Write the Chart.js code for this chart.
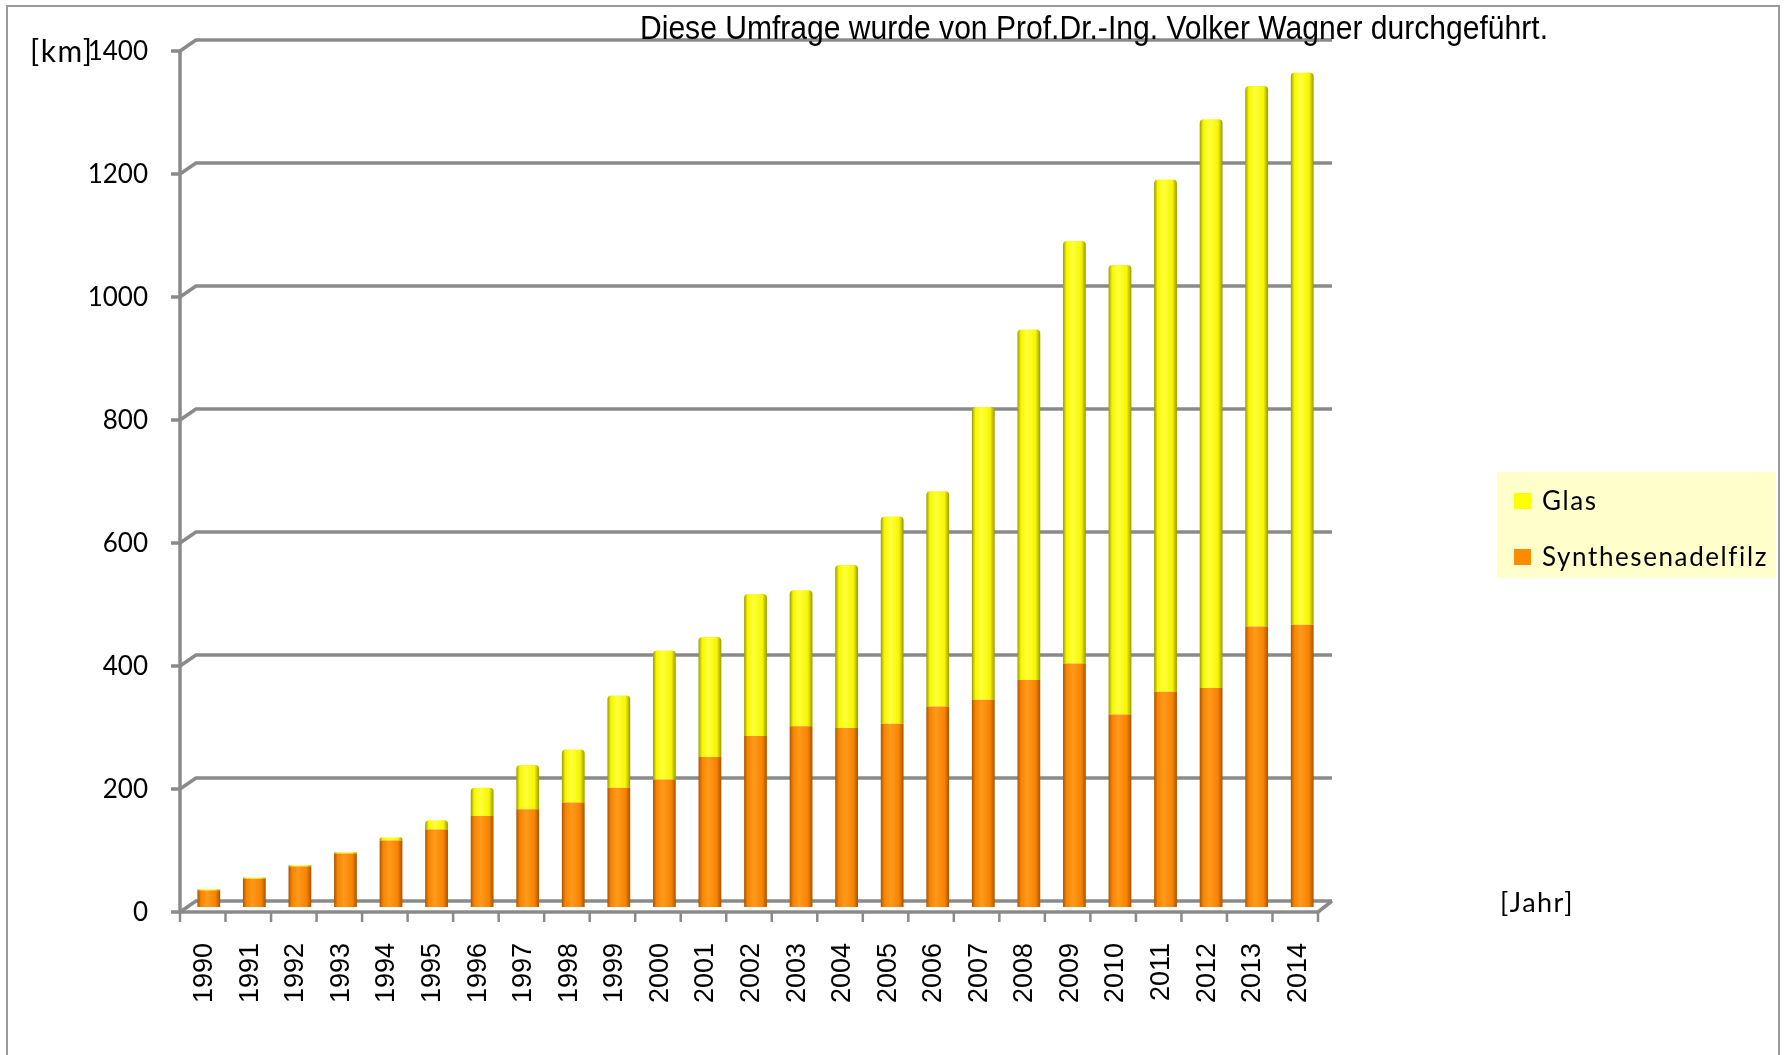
<!DOCTYPE html>
<html lang="de">
<head>
<meta charset="utf-8">
<title>Umfrage Schlauchliner</title>
<script src="https://cdn.jsdelivr.net/npm/chart.js@4"></script>
<style>
    body { margin: 0; background: #ffffff; }
    canvas { display: block; }
</style>
</head>
<body>
<canvas id="grafik" width="1785" height="1055"></canvas>
<script>
// Werte [km]
const jahre = ['1990', '1991', '1992', '1993', '1994', '1995', '1996', '1997', '1998', '1999',
    '2000', '2001', '2002', '2003', '2004', '2005', '2006', '2007', '2008', '2009',
    '2010', '2011', '2012', '2013', '2014'];
const synthesenadelfilz = [27, 46, 66, 87, 108, 126, 148, 159, 170, 194,
    207, 244, 278, 294, 291, 298, 326, 337, 369, 396,
    313, 350, 356, 456, 459];
const glas = [2, 2, 2, 2, 5, 15, 46, 72, 86, 150,
    210, 195, 231, 221, 265, 337, 350, 476, 570, 687,
    731, 833, 925, 879, 898];
const yTicks = [0, 200, 400, 600, 800, 1000, 1200, 1400];

const titel = 'Diese Umfrage wurde von Prof.Dr.-Ing. Volker Wagner durchgeführt.';
const balkenBreite = 0.5;
const rahmenFarbe = '#8a8a8a';

// Zylinder-Schattierung (horizontaler Verlauf über die Balkenbreite)
function zylinder(context, dunkel, hell, mitte) {
    const chart = context.chart;
    const xAchse = chart.scales.x;
    if (!xAchse || context.dataIndex === undefined || !chart.chartArea) {
        return mitte;
    }
    const px = xAchse.getPixelForValue(context.dataIndex);
    const halb = xAchse.width / jahre.length * balkenBreite / 2;
    const g = chart.ctx.createLinearGradient(px - halb, 0, px + halb, 0);
    g.addColorStop(0, dunkel);
    g.addColorStop(0.15, mitte);
    g.addColorStop(0.42, hell);
    g.addColorStop(0.8, mitte);
    g.addColorStop(1, dunkel);
    return g;
}

// 3D-Rahmen: Rückwand-Gitterlinien, Achsen und Teilstriche
const rahmen3d = {
    id: 'rahmen3d',
    beforeDatasetsDraw(chart) {
        const ctx = chart.ctx;
        const ca = chart.chartArea;
        const yS = chart.scales.y;
        const vorneX = ca.left - 6;
        const hintenX = ca.left + 10;
        const vorneRechts = ca.right - 7;
        const hintenRechts = ca.right + 7;

        ctx.save();
        ctx.strokeStyle = rahmenFarbe;
        ctx.lineWidth = 3.5;
        ctx.lineJoin = 'round';

        yTicks.forEach(function (v) {
            const yv = yS.getPixelForValue(v);
            const yF = yv + 5;
            const yB = yv - 6;
            ctx.beginPath();
            ctx.moveTo(vorneX - 9, yF);
            ctx.lineTo(vorneX, yF);
            ctx.lineTo(hintenX, yB);
            ctx.lineTo(hintenRechts, yB);
            ctx.stroke();
        });

        const yF0 = yS.getPixelForValue(0) + 5;
        const yB0 = yS.getPixelForValue(0) - 6;
        const yFTop = yS.getPixelForValue(1400) + 5;

        // vordere Achsen
        ctx.beginPath();
        ctx.moveTo(vorneX, yFTop);
        ctx.lineTo(vorneX, yF0);
        ctx.lineTo(vorneRechts, yF0);
        ctx.lineTo(hintenRechts, yB0);
        ctx.stroke();

        // Teilstriche an der x-Achse
        ctx.lineWidth = 2.5;
        const schritt = (vorneRechts - vorneX) / jahre.length;
        for (let i = 0; i <= jahre.length; i++) {
            const x = vorneX + i * schritt;
            ctx.beginPath();
            ctx.moveTo(x, yF0);
            ctx.lineTo(x, yF0 + 10);
            ctx.stroke();
        }
        ctx.restore();
    },
    afterDraw(chart) {
        const ctx = chart.ctx;
        ctx.save();

        // äußerer Rand
        ctx.strokeStyle = '#9a9a9a';
        ctx.lineWidth = 2;
        ctx.beginPath();
        ctx.moveTo(7, 1060);
        ctx.lineTo(7, 6);
        ctx.lineTo(1779, 6);
        ctx.lineTo(1779, 1060);
        ctx.stroke();

        // Titel (schmale Schrift)
        ctx.fillStyle = '#000000';
        ctx.font = '33px "Liberation Sans", Arial, sans-serif';
        ctx.textBaseline = 'alphabetic';
        ctx.textAlign = 'center';
        const breite = ctx.measureText(titel).width;
        ctx.save();
        ctx.translate(1094, 39);
        ctx.scale(908 / breite, 1);
        ctx.fillText(titel, 0, 0);
        ctx.restore();

        // Achsenbeschriftungen
        ctx.font = '30px Lato, "Noto Sans", sans-serif';
        ctx.textAlign = 'left';
        ctx.textBaseline = 'middle';
        ctx.letterSpacing = '1.5px';
        ctx.fillText('[km]', 30, 52);
        ctx.font = '27px Lato, "Noto Sans", sans-serif';
        ctx.fillText('[Jahr]', 1500, 903);

        // Legende
        ctx.fillStyle = '#ffffcc';
        ctx.fillRect(1497, 472, 279, 106);
        ctx.font = '26px Lato, "Noto Sans", sans-serif';
        ctx.letterSpacing = '1.6px';
        const eintraege = chart.data.datasets.slice().reverse();
        eintraege.forEach(function (ds, i) {
            const y = 501 + i * 56;
            ctx.fillStyle = ds.legendeFarbe;
            ctx.fillRect(1514, y - 8, 17, 16);
            ctx.fillStyle = '#000000';
            ctx.fillText(ds.label, 1542, y + 1);
        });
        ctx.restore();
    }
};

const grafik = new Chart(document.getElementById('grafik'), {
    type: 'bar',
    data: {
        labels: jahre,
        datasets: [
            {
                label: 'Synthesenadelfilz',
                data: synthesenadelfilz,
                legendeFarbe: '#ff8c00',
                backgroundColor: function (c) { return zylinder(c, '#a85400', '#ff9a1c', '#f78300'); },
                borderWidth: 0
            },
            {
                label: 'Glas',
                data: glas,
                legendeFarbe: '#ffff00',
                backgroundColor: function (c) { return zylinder(c, '#9a9a00', '#ffff3a', '#f6f600'); },
                borderWidth: 0,
                borderRadius: { topLeft: 4, topRight: 4 },
                borderSkipped: 'bottom'
            }
        ]
    },
    options: {
        responsive: false,
        animation: false,
        devicePixelRatio: 1,
        barPercentage: balkenBreite,
        categoryPercentage: 1,
        layout: {
            padding: { top: 46, left: 0, right: 460, bottom: 0 }
        },
        plugins: {
            legend: { display: false },
            title: { display: false },
            tooltip: { enabled: false }
        },
        scales: {
            x: {
                stacked: true,
                grid: { display: false, drawTicks: true, tickLength: 36 },
                border: { display: false },
                ticks: {
                    minRotation: 90,
                    maxRotation: 90,
                    padding: 0,
                    labelOffset: -4,
                    color: '#000000',
                    font: { family: '"Liberation Sans", Arial, sans-serif', size: 27 }
                },
                afterFit: function (scale) { scale.height = 148; }
            },
            y: {
                stacked: true,
                min: 0,
                max: 1400,
                afterBuildTicks: function (scale) {
                    scale.ticks = yTicks.map(function (v) { return { value: v }; });
                },
                grid: { display: false, drawTicks: true, tickLength: 38 },
                border: { display: false },
                ticks: {
                    padding: 0,
                    labelOffset: 6,
                    color: '#000000',
                    font: { family: 'Lato, "Noto Sans", sans-serif', size: 26 },
                    callback: function (wert) { return String(wert); }
                },
                afterFit: function (scale) { scale.width = 186; }
            }
        }
    },
    plugins: [rahmen3d]
});
</script>
</body>
</html>
